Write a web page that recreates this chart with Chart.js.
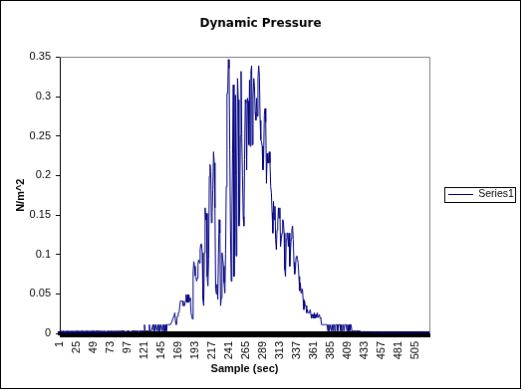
<!DOCTYPE html>
<html>
<head>
<meta charset="utf-8">
<script src="https://cdn.jsdelivr.net/npm/chart.js@4/dist/chart.umd.min.js"></script>
<style>
  html, body { margin: 0; padding: 0; background: #fff; }
  #c { display: block; border: 1px solid #000; background: #fff; }
</style>
</head>
<body>
<canvas id="c" width="521" height="389"></canvas>
<script>
// ---- data ----
const chartTitle = 'Dynamic Pressure';
const xTitle = 'Sample (sec)';
const yTitle = 'N/m^2';
const seriesName = 'Series1';

// sample numbers 1..525 (category axis)
const sampleCount = 525;
const samples = [];
for (let i = 1; i <= sampleCount; i++) samples.push(i);

// x tick labels that are shown
const xTickLabels = [1, 25, 49, 73, 97, 121, 145, 169, 193, 217, 241, 265, 289, 313, 337, 361, 385, 409, 433, 457, 481, 505];
// y tick labels
const yTickLabels = ['0', '0.05', '0.1', '0.15', '0.2', '0.25', '0.3', '0.35'];

// samples 1-113
const leftTail = [
  0.003,0,0.003,0,0.003,0.003,0,0.003,0,0.003,
  0,0.003,0.003,0,0.003,0,0.003,0,0.003,0.003,
  0,0.003,0,0.003,0,0.003,0.003,0,0.003,0,
  0.003,0,0.003,0.003,0,0.003,0,0.003,0,0.003,
  0.003,0,0.003,0,0.003,0,0.003,0.003,0,0.003,
  0,0.003,0,0.003,0.003,0,0.003,0.003,0,0.003,
  0.003,0,0.003,0.003,0,0.003,0.003,0,0.003,0.003,
  0.003,0,0.003,0.003,0.003,0,0.003,0.003,0,0.003,
  0.003,0.003,0,0.003,0.003,0.003,0,0.003,0.003,0.003,
  0.003,0.003,0.003,0.003,0,0.003,0.003,0.003,0.003,0.003,
  0.003,0,0.003,0.003,0.003,0.003,0.003,0.003,0.003,0.003,0.003,0.003,0
];
// samples 114-199
const rise = [
  0.003,0.003,0.003,0.003,0.003,0.003,0.003,
  0.011,
  0.003,0.003,0.003,0.003,0.003,0.003,
  0.011,
  0.003,0.003,0.003,0.003,
  0.011,
  0.003,
  0.011,0.003,0.011,0.011,0.003,0.011,0.003,0.011,0.003,0.011,0.011,0.003,0.011,0.003,0.011,0.003,0.011,0.003,0.011,
  0.011,0.011,0.011,0.011,0.011,0.011,
  0.015,0.018,0.018,0.022,0.026,0.015,0.011,0.018,0.022,0.026,
  0.026,0.033,0.041,0.041,0.041,0.041,0.035,0.035,0.035,0.041,
  0.049,0.039,0.049,0.039,0.049,0.041,0.045,0.026,0.022,0.018,
  0.077,0.091,0.085,0.073,0.072,0.066,0.07,0.089,0.093,0.089
];
// samples 200-299
const peak = [
  0.106,0.113,0.113,0.102,0.043,0.035,0.102,0.159,0.144,0.152,
  0.072,0.06,0.094,0.199,0.214,0.205,0.14,0.153,0.182,0.23,
  0.216,0.159,0.056,0.05,0.062,0.043,0.1,0.144,0.127,0.035,
  0.045,0.102,0.094,0.085,0.064,0.051,0.1,0.186,0.304,0.304,
  0.347,0.336,0.233,0.131,0.066,0.14,0.228,0.315,0.072,0.127,
  0.302,0.098,0.2,0.323,0.296,0.136,0.153,0.25,0.332,0.249,
  0.2,0.148,0.136,0.22,0.296,0.292,0.207,0.298,0.294,0.239,
  0.321,0.237,0.332,0.339,0.239,0.3,0.323,0.313,0.28,0.27,
  0.298,0.275,0.323,0.339,0.325,0.27,0.245,0.243,0.237,0.207,
  0.22,0.277,0.285,0.268,0.19,0.228,0.216,0.216,0.23,0.216
];
// samples 300-441
const fall = [
  0.186,0.178,0.153,0.127,0.167,0.144,0.161,0.119,0.106,0.131,
  0.14,0.159,0.146,0.159,0.11,0.12,0.127,0.144,0.142,0.127,
  0.081,0.072,0.119,0.127,0.127,0.11,0.127,0.085,0.102,0.12,
  0.131,0.136,0.119,0.09,0.075,0.081,0.096,0.098,0.094,0.089,
  0.072,0.054,0.064,0.051,0.056,0.056,0.043,0.03,0.041,0.035,
  0.035,0.026,0.03,0.026,0.026,0.026,0.03,0.024,0.019,0.024,
  0.024,0.019,0.026,0.019,0.024,0.02,0.026,0.02,0.02,0.024,
  0.019,0.02,0.011,0.011,0.011,0.011,0.011,0.011,0.011,0.011,
  0.011,0.003,0.011,0.003,0.011,0.011,0.003,0.011,0.003,0.011,
  0.011,0.003,0.011,0.011,0.011,0.003,0.011,0.011,0.011,0.003,
  0.011,0.003,0.011,0.011,0.003,0.011,0.011,0.011,0.003,0.011,
  0.003,0.011,0.003,0.011,0.011,0.003,0.003,0.003,0.003,0.003,
  0.003,0.003,0.003,0.003,0.003,0.003,0.003,0.003,0,0.002,
  0.002,0.002,0.002,0.002,0.002,0.002,0.002,0.002,0.002,0.002,0.002,0.002
];
// samples 442-525
const rightTail = [
  0.002,0.002,0,0.002,0.002,0.002,0,0.002,0.002,0,
  0.002,0.002,0,0.002,0.002,0,0.002,0.002,0,0.002,
  0,0.002,0.002,0,0.002,0,0.002,0.002,0,0.002,
  0.002,0,0.002,0,0.002,0.002,0,0.002,0,0.002,
  0,0.002,0.002,0,0.002,0,0.002,0,0.002,0.002,
  0,0.002,0,0.002,0,0.002,0.002,0,0.002,0,
  0.002,0,0.002,0.002,0,0.002,0,0.002,0,0.002,
  0.002,0,0.002,0,0.002,0.002,0,0.002,0,0.002,
  0,0.002,0,0.002
];

const pressure = [].concat(leftTail, rise, peak, fall, rightTail);

// ---- drawing ----
const tickFont = { family: 'Liberation Sans', size: 11 };
const legendFont = { family: 'Liberation Sans', size: 10.5 };
const boldFont = { family: 'Liberation Sans', size: 11, weight: 'bold' };

const framePlugin = {
  id: 'frame',
  beforeDatasetsDraw(chart) {
    const { ctx, chartArea: a } = chart;
    ctx.save();
    ctx.strokeStyle = '#808080';
    ctx.lineWidth = 1;
    ctx.beginPath();
    ctx.moveTo(a.left, Math.round(a.top) + 0.5);
    ctx.lineTo(Math.round(a.right) + 0.5, Math.round(a.top) + 0.5);
    ctx.lineTo(Math.round(a.right) + 0.5, a.bottom);
    ctx.stroke();
    ctx.restore();
  },
  afterDraw(chart) {
    const hb = chart.legend && chart.legend.legendHitBoxes && chart.legend.legendHitBoxes[0];
    if (!hb) return;
    const ctx = chart.ctx;
    ctx.save();
    ctx.strokeStyle = '#000';
    ctx.lineWidth = 1;
    const cy = Math.round(hb.top + hb.height / 2);
    ctx.strokeRect(Math.round(hb.left) - 3.5, cy - 7.5, Math.round(hb.width) + 5, 15);
    ctx.restore();
  }
};

new Chart(document.getElementById('c'), {
  type: 'line',
  data: {
    labels: samples,
    datasets: [{
      label: seriesName,
      data: pressure,
      borderColor: '#000080',
      backgroundColor: '#000080',
      borderWidth: 1,
      pointRadius: 0,
      tension: 0,
      fill: false
    }]
  },
  options: {
    responsive: false,
    animation: false,
    devicePixelRatio: 1,
    layout: { padding: { left: 0, right: 0, top: 0, bottom: 0 } },
    plugins: {
      title: {
        display: true,
        text: chartTitle,
        color: '#000',
        font: { family: 'DejaVu Sans', size: 12, weight: 'bold' },
        padding: { top: 16, bottom: 26 }
      },
      legend: {
        position: 'right',
        maxWidth: 91,
        labels: {
          usePointStyle: true,
          pointStyle: 'line',
          pointStyleWidth: 25,
          padding: 19,
          color: '#000',
          font: legendFont
        }
      },
      tooltip: { enabled: false }
    },
    scales: {
      x: {
        type: 'category',
        offset: false,
        afterFit(s) { s.height = 55; },
        grid: { drawOnChartArea: false, drawTicks: true, tickLength: 4, color: '#000', lineWidth: 1 },
        border: { color: '#000', width: 4 },
        ticks: {
          autoSkip: false,
          maxRotation: 90,
          minRotation: 90,
          padding: 4,
          color: '#000',
          font: tickFont,
          callback: function (v, i) {
            const s = samples[i];
            return xTickLabels.includes(s) ? String(s) : '';
          }
        },
        title: { display: true, text: xTitle, color: '#000', font: boldFont, padding: { top: 4, bottom: 12 } }
      },
      y: {
        min: 0,
        max: 0.35,
        afterFit(s) { s.width = 59; },
        grid: { drawOnChartArea: false, drawTicks: true, tickLength: 4, color: '#000' },
        border: { color: '#000', width: 1 },
        ticks: {
          stepSize: 0.05,
          padding: 5,
          color: '#000',
          font: tickFont,
          callback: function (v, i) { return yTickLabels[i]; }
        },
        title: { display: true, text: yTitle, color: '#000', font: boldFont, padding: { top: 13, bottom: 4 } }
      }
    }
  },
  plugins: [framePlugin]
});
</script>
</body>
</html>
